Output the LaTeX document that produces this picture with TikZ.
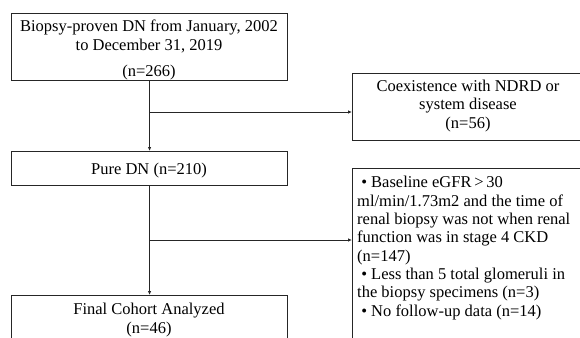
\documentclass[tikz,border=0pt]{standalone}
\usepackage{fontspec}
\setmainfont{Liberation Serif}
\usetikzlibrary{arrows.meta}
\begin{document}
\begin{tikzpicture}[x=1pt,y=-1pt,
  box/.style={draw=black!85,line width=1.1pt,inner sep=0pt,anchor=north west},
  txt/.style={inner sep=0pt,anchor=base,align=center,font=\fontsize{16.5}{18.3}\selectfont},
  ltxt/.style={inner sep=0pt,anchor=base west,align=left,font=\fontsize{16.5}{18.3}\selectfont},
  arr/.style={draw=black!85,line width=0.9pt,-{Latex[length=4pt,width=3.5pt]}},
  ln/.style={draw=black!85,line width=0.9pt}]
\useasboundingbox (0,0) rectangle (580,337);
% boxes
\node[box,minimum width=276pt,minimum height=67pt] (b1) at (11,13) {};
\node[box,minimum width=232pt,minimum height=67pt] (b3) at (352,73) {};
\node[box,minimum width=276pt,minimum height=34pt] (b2) at (11,151) {};
\node[box,minimum width=232pt,minimum height=180pt] (b4) at (352,168) {};
\node[box,minimum width=276pt,minimum height=60pt] (b5) at (11,295) {};
% texts (base anchor = last line)
\node[txt] (t1) at (149,50) {Biopsy-proven DN from January, 2002\\to December 31, 2019};
\node[txt] (t1b) at (149,76) {(n=266)};
\node[txt] (t3) at (468,128) {Coexistence with NDRD or\\system disease\\(n=56)};
\node[txt] (t2) at (149,174) {Pure DN (n=210)};
\node[ltxt] (t4) at (357,316) {\ \textbullet\ Baseline eGFR\,>\,30\\ml/min/1.73m2 and the time of\\renal biopsy was not when renal\\function was in stage 4 CKD\\(n=147)\\\ \textbullet\ Less than 5 total glomeruli in\\the biopsy specimens (n=3)\\\ \textbullet\ No follow-up data (n=14)};
\node[txt] (t5) at (149,333) {Final Cohort Analyzed\\(n=46)};
% connectors
\coordinate (j1) at (149,112);
\coordinate (j2) at (149,240);
\draw[arr] (b1.south) -- (b2.north);
\draw[arr] (j1) -- (j1 -| b3.west);
\draw[arr] (b2.south) -- (b5.north);
\draw[arr] (j2) -- (j2 -| b4.west);
\end{tikzpicture}
\end{document}
